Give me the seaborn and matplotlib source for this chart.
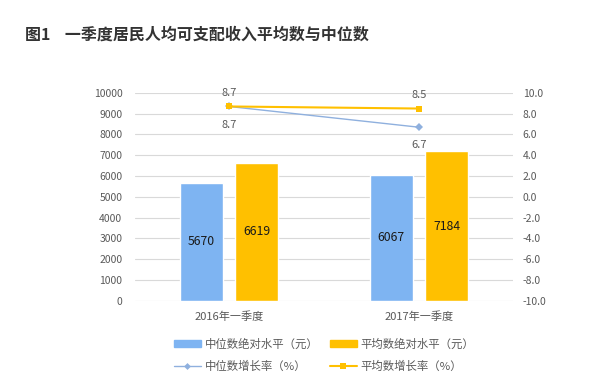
import seaborn as sns
import matplotlib.pyplot as plt
import pandas as pd
from matplotlib.patches import Patch
from matplotlib.lines import Line2D

# data
quarters = ['2016年一季度', '2017年一季度']
median_income = [5670, 6067]
mean_income = [6619, 7184]
median_growth = [8.7, 6.7]
mean_growth = [8.7, 8.5]
series_names = ['中位数绝对水平（元）', '平均数绝对水平（元）']
growth_names = ['中位数增长率（%）', '平均数增长率（%）']

blue = '#7EB4F2'
orange = '#FFC000'
line_blue = '#8FB0DE'
grey = '#595959'

sns.set_theme(style='white')
plt.rcParams['font.family'] = ['Noto Sans CJK SC', 'DejaVu Sans']

df = pd.DataFrame({
    'quarter': quarters * 2,
    'value': median_income + mean_income,
    'series': [series_names[0]] * 2 + [series_names[1]] * 2,
})

fig = plt.figure(figsize=(5.89, 3.81), dpi=100)
ax = fig.add_axes([0.229, 0.211, 0.642, 0.545])

sns.barplot(data=df, x='quarter', y='value', hue='series',
            palette=[blue, orange], width=0.58, gap=0.22, saturation=1,
            ax=ax, legend=False, zorder=3)
for cont in ax.containers:
    ax.bar_label(cont, label_type='center', fontsize=8.8, color='#1A1A1A')

ax.set_ylim(0, 10000)
ax.set_yticks(range(0, 10001, 1000))
ax.set_xlim(-0.495, 1.495)
ax.grid(axis='y', color='#D9D9D9', linewidth=0.8, zorder=0)
ax.set_xlabel('')
ax.set_ylabel('')
ax.tick_params(axis='y', length=0, pad=9, labelsize=7.5, labelcolor=grey)
ax.tick_params(axis='x', length=0, pad=8, labelsize=8, labelcolor=grey)
for s in ax.spines.values():
    s.set_visible(False)

ax2 = ax.twinx()
xs = list(range(len(quarters)))
sns.lineplot(x=xs, y=median_growth, ax=ax2, color=line_blue, linewidth=1,
             marker='D', markersize=4, markeredgewidth=0)
sns.lineplot(x=xs, y=mean_growth, ax=ax2, color=orange, linewidth=1.5,
             marker='s', markersize=5, markeredgewidth=0)
for x, v in zip(xs, median_growth):
    ax2.annotate(f'{v:.1f}', (x, v), xytext=(0, -13), textcoords='offset points',
                 ha='center', va='center', fontsize=8, color=grey)
for x, v in zip(xs, mean_growth):
    ax2.annotate(f'{v:.1f}', (x, v), xytext=(0, 10), textcoords='offset points',
                 ha='center', va='center', fontsize=8, color=grey)
ax2.set_ylim(-10, 10)
ax2.set_yticks([i * 2 for i in range(-5, 6)])
ax2.set_yticklabels([f'{t:.1f}' for t in ax2.get_yticks()])
ax2.tick_params(axis='y', length=0, pad=7, labelsize=7.5, labelcolor=grey)
ax2.grid(False)
for s in ax2.spines.values():
    s.set_visible(False)

handles = [
    Patch(color=blue),
    Line2D([], [], color=line_blue, linewidth=1, marker='D', markersize=3.5, markeredgewidth=0),
    Patch(color=orange),
    Line2D([], [], color=orange, linewidth=1.5, marker='s', markersize=4, markeredgewidth=0),
]
labels = [series_names[0], growth_names[0], series_names[1], growth_names[1]]
fig.legend(handles, labels, ncol=2, loc='center', bbox_to_anchor=(0.55, 0.068),
           frameon=False, fontsize=8.2, labelcolor=grey, handlelength=2.4,
           handleheight=0.6, columnspacing=1.0, handletextpad=0.3, labelspacing=0.95)

fig.text(0.043, 0.91, '图1    一季度居民人均可支配收入平均数与中位数', fontsize=11.5,
         fontweight='bold', color='#333333', va='center')

fig.savefig('out.png', dpi=100)
